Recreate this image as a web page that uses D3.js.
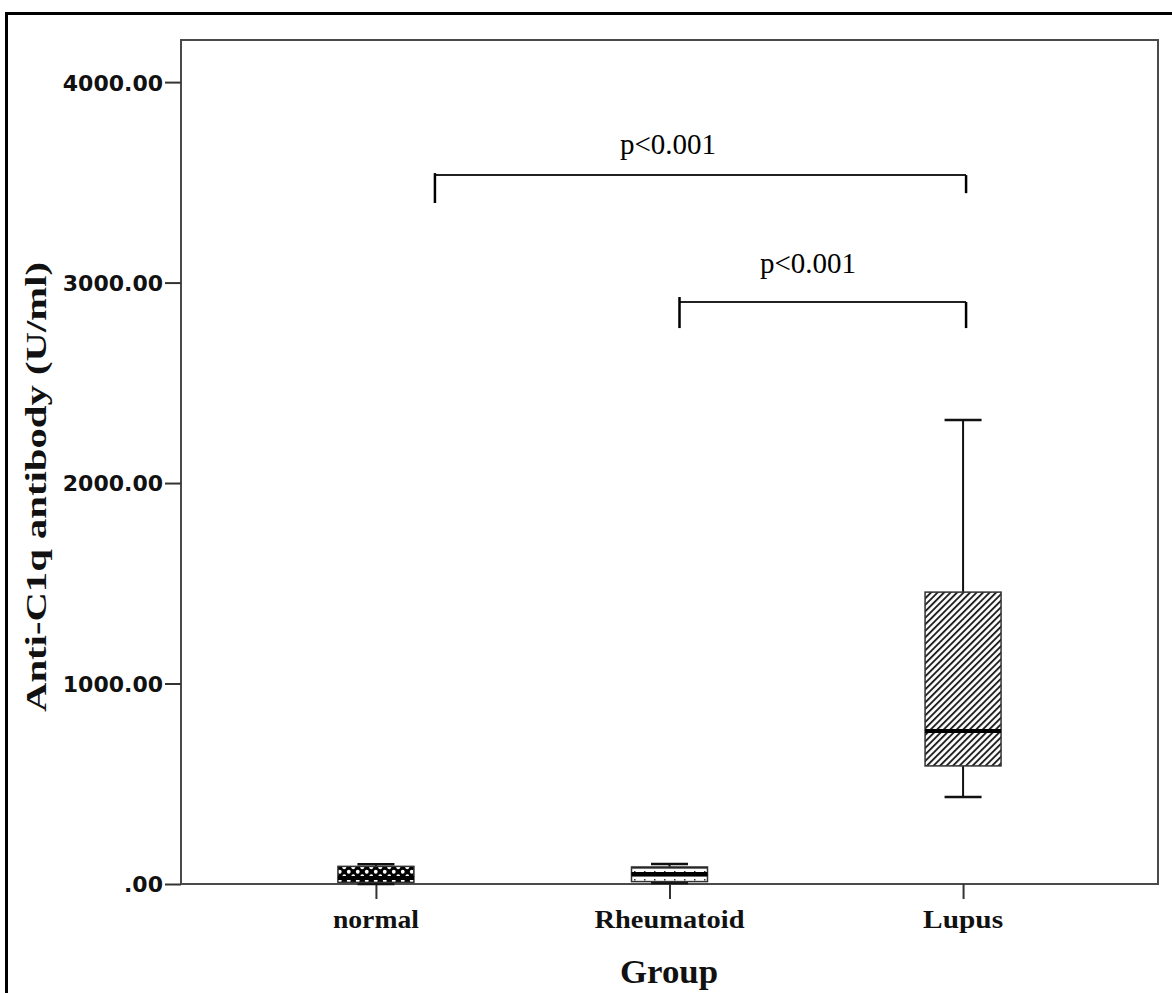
<!DOCTYPE html>
<html>
<head>
<meta charset="utf-8">
<script src="https://cdn.jsdelivr.net/npm/d3@7/dist/d3.min.js"></script>
<style>
  html, body { margin: 0; padding: 0; background: #fff; }
  svg { display: block; }
</style>
</head>
<body>
<svg id="chart" width="1172" height="993"></svg>
<script>
// ---- data ----
const categories = ["normal", "Rheumatoid", "Lupus"];
const whiskerLow  = [0, 5, 434];
const q1Values    = [8, 12, 589];
const medianVals  = [30, 50, 763];
const q3Values    = [88, 85, 1456];
const whiskerHigh = [98, 100, 2314];
const yTickValues = [0, 1000, 2000, 3000, 4000];
const yTickLabels = [".00", "1000.00", "2000.00", "3000.00", "4000.00"];
const bracketFrom = ["normal", "Rheumatoid"];
const bracketTo   = ["Lupus", "Lupus"];
const bracketLevel = [3536, 2903];
const bracketLeftTop = [3546, 2928];
const bracketLeftBottom = [3397, 2773];
const bracketRightBottom = [3446, 2773];
const pLabels = ["p<0.001", "p<0.001"];
const pLabelLevel = [3640, 3050];
const xTitle = "Group";
const yTitle = "Anti-C1q antibody (U/ml)";

// ---- layout ----
const L = 181, T = 40, R = 1158, B = 884;
const svg = d3.select("#chart");
const defs = svg.append("defs");

// patterns
const pNormal = defs.append("pattern").attr("id", "patNormal")
  .attr("patternUnits", "userSpaceOnUse").attr("width", 9).attr("height", 9)
  .attr("x", 0).attr("y", 1);
pNormal.append("rect").attr("width", 9).attr("height", 9).attr("fill", "#000");
pNormal.append("circle").attr("cx", 2.25).attr("cy", 2.25).attr("r", 1.9).attr("fill", "#fff");
pNormal.append("circle").attr("cx", 6.75).attr("cy", 6.75).attr("r", 1.9).attr("fill", "#fff");

const pRheum = defs.append("pattern").attr("id", "patRheum")
  .attr("patternUnits", "userSpaceOnUse").attr("width", 10).attr("height", 8)
  .attr("y", 3);
pRheum.append("rect").attr("width", 10).attr("height", 8).attr("fill", "#fff");
pRheum.append("rect").attr("x", 0).attr("y", 0).attr("width", 10).attr("height", 1.6).attr("fill", "#111");
pRheum.append("rect").attr("x", 4).attr("y", 4).attr("width", 1.5).attr("height", 1.5).attr("fill", "#333");

const pLupus = defs.append("pattern").attr("id", "patLupus")
  .attr("patternUnits", "userSpaceOnUse").attr("width", 4.6).attr("height", 4.6)
  .attr("patternTransform", "rotate(45)");
pLupus.append("rect").attr("width", 4.6).attr("height", 4.6).attr("fill", "#fff");
pLupus.append("rect").attr("x", 0).attr("y", 0).attr("width", 1.9).attr("height", 4.6).attr("fill", "#222");

const fills = ["url(#patNormal)", "url(#patRheum)", "url(#patLupus)"];

// outer frame
svg.append("line").attr("x1", 5).attr("x2", 1172).attr("y1", 13.5).attr("y2", 13.5)
  .attr("stroke", "#000").attr("stroke-width", 3);
svg.append("line").attr("x1", 6.5).attr("x2", 6.5).attr("y1", 12).attr("y2", 993)
  .attr("stroke", "#000").attr("stroke-width", 3);

// scales
const y = d3.scaleLinear().domain([0, 4210]).range([B, T]);
const x = d3.scalePoint().domain(categories).range([L, R]).padding(0.664);
const boxW = 76, capW = 37;

// plot frame
svg.append("rect").attr("x", L).attr("y", T).attr("width", R - L).attr("height", B - T)
  .attr("fill", "none").attr("stroke", "#4a4a4a").attr("stroke-width", 2);

// y axis
const yAxis = d3.axisLeft(y).tickValues(yTickValues)
  .tickFormat((d, i) => yTickLabels[i]).tickSize(16).tickPadding(2);
const gy = svg.append("g").attr("transform", `translate(${L},0)`).call(yAxis);
gy.select(".domain").remove();
gy.selectAll(".tick line").attr("stroke", "#333").attr("stroke-width", 2);
gy.selectAll(".tick text").attr("font-family", "DejaVu Sans").attr("font-weight", "bold")
  .attr("font-size", 22).attr("fill", "#111").attr("dy", "0.36em");

// x axis
const xAxis = d3.axisBottom(x).tickSize(15).tickFormat("");
const gx = svg.append("g").attr("transform", `translate(0,${B})`).call(xAxis);
gx.select(".domain").remove();
gx.selectAll(".tick line").attr("stroke", "#333").attr("stroke-width", 2);

const catLen = { "normal": 86, "Rheumatoid": 150, "Lupus": 80 };
svg.append("g").selectAll("text").data(categories).join("text")
  .attr("x", d => x(d)).attr("y", 928)
  .attr("text-anchor", "middle")
  .attr("font-family", "Liberation Serif").attr("font-weight", "bold")
  .attr("font-size", 26).attr("fill", "#111")
  .attr("textLength", d => catLen[d]).attr("lengthAdjust", "spacingAndGlyphs")
  .text(d => d);

// axis titles
svg.append("text").attr("x", 669).attr("y", 983).attr("text-anchor", "middle")
  .attr("font-family", "Liberation Serif").attr("font-weight", "bold")
  .attr("font-size", 33).attr("fill", "#111")
  .attr("textLength", 98).attr("lengthAdjust", "spacingAndGlyphs")
  .text(xTitle);
svg.append("text").attr("transform", "translate(46,487) rotate(-90)")
  .attr("text-anchor", "middle")
  .attr("font-family", "Liberation Serif").attr("font-weight", "bold")
  .attr("font-size", 30).attr("fill", "#111")
  .attr("textLength", 450).attr("lengthAdjust", "spacingAndGlyphs")
  .text(yTitle);

// boxes
const boxes = categories.map((c, i) => ({
  c, lo: whiskerLow[i], q1: q1Values[i], med: medianVals[i], q3: q3Values[i], hi: whiskerHigh[i], fill: fills[i]
}));
const gb = svg.append("g");
boxes.forEach(b => {
  const cx = x(b.c);
  const g = gb.append("g");
  g.append("line").attr("x1", cx).attr("x2", cx).attr("y1", y(b.hi)).attr("y2", y(b.q3))
    .attr("stroke", "#111").attr("stroke-width", 2);
  g.append("line").attr("x1", cx).attr("x2", cx).attr("y1", y(b.q1)).attr("y2", y(b.lo))
    .attr("stroke", "#111").attr("stroke-width", 2);
  g.append("line").attr("x1", cx - capW / 2).attr("x2", cx + capW / 2).attr("y1", y(b.hi)).attr("y2", y(b.hi))
    .attr("stroke", "#111").attr("stroke-width", 2.5);
  g.append("line").attr("x1", cx - capW / 2).attr("x2", cx + capW / 2).attr("y1", y(b.lo)).attr("y2", y(b.lo))
    .attr("stroke", "#111").attr("stroke-width", 2.5);
  g.append("rect").attr("x", cx - boxW / 2).attr("y", y(b.q3)).attr("width", boxW)
    .attr("height", y(b.q1) - y(b.q3)).attr("fill", b.fill)
    .attr("stroke", "#333").attr("stroke-width", 1.5);
  g.append("line").attr("x1", cx - boxW / 2).attr("x2", cx + boxW / 2).attr("y1", y(b.med)).attr("y2", y(b.med))
    .attr("stroke", "#000").attr("stroke-width", 4);
});

// significance brackets
const gs = svg.append("g");
const leftOffset = [59, 10], rightOffset = [3, 3];
const labelX = [668, 808];
bracketFrom.forEach((f, i) => {
  const x1 = x(f) + leftOffset[i], x2 = x(bracketTo[i]) + rightOffset[i];
  gs.append("line").attr("x1", x1).attr("x2", x2).attr("y1", y(bracketLevel[i])).attr("y2", y(bracketLevel[i]))
    .attr("stroke", "#222").attr("stroke-width", 2);
  gs.append("line").attr("x1", x1).attr("x2", x1).attr("y1", y(bracketLeftTop[i])).attr("y2", y(bracketLeftBottom[i]))
    .attr("stroke", "#000").attr("stroke-width", 2.5);
  gs.append("line").attr("x1", x2).attr("x2", x2).attr("y1", y(bracketLevel[i])).attr("y2", y(bracketRightBottom[i]))
    .attr("stroke", "#000").attr("stroke-width", 2.5);
  gs.append("text").attr("x", labelX[i]).attr("y", y(pLabelLevel[i]))
    .attr("text-anchor", "middle").attr("font-family", "Liberation Serif")
    .attr("font-size", 29).attr("fill", "#000").text(pLabels[i]);
});
</script>
</body>
</html>
